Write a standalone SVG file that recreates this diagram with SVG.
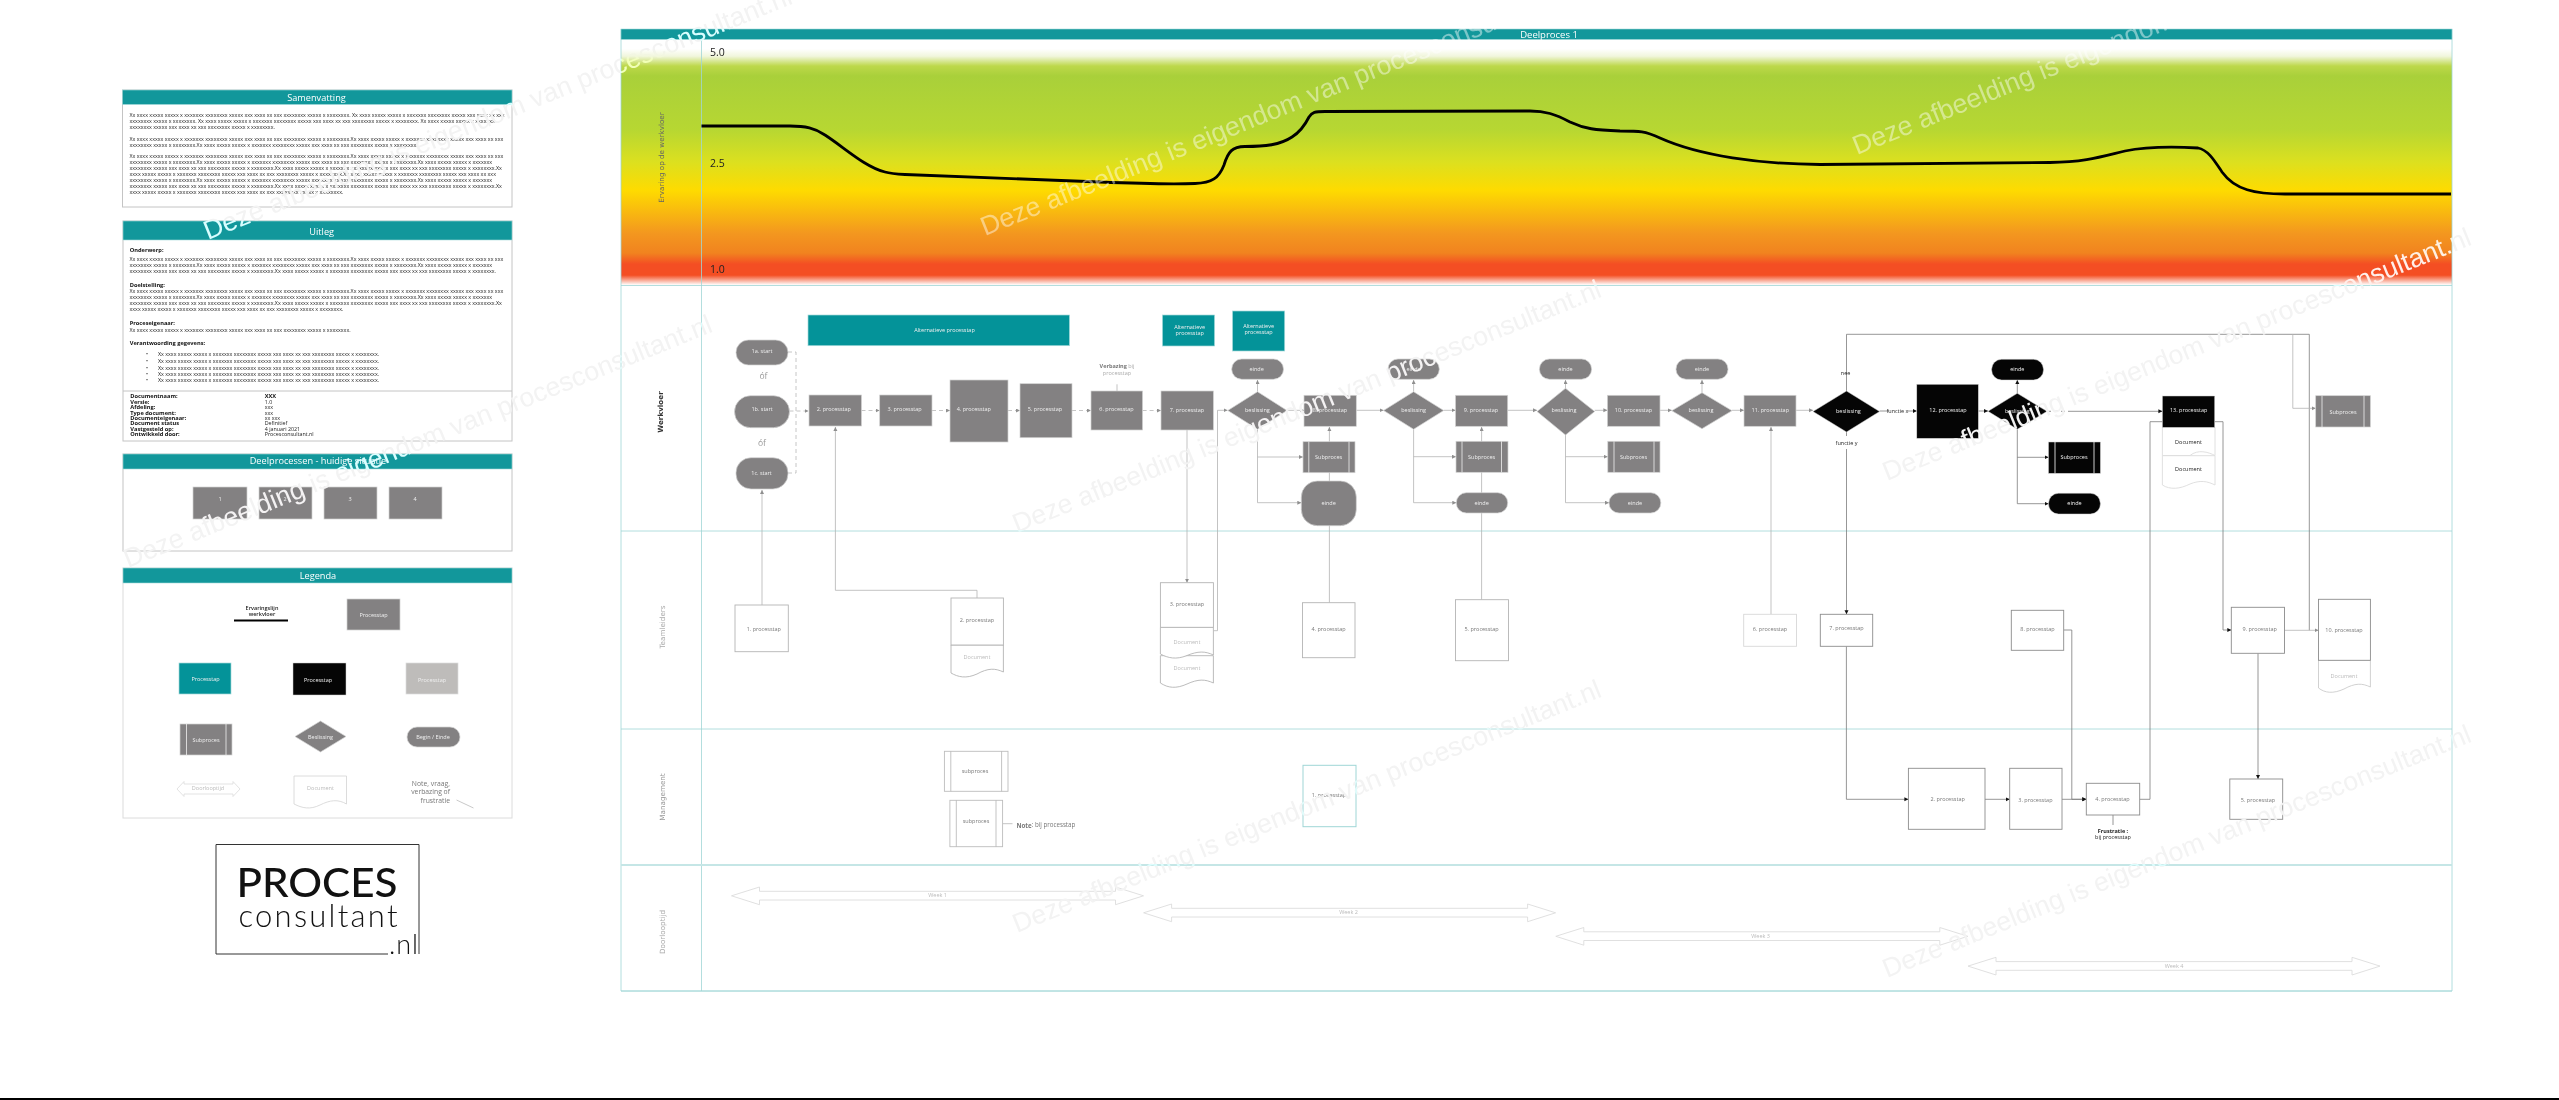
<svg xmlns="http://www.w3.org/2000/svg" width="2559" height="1100" viewBox="0 0 2559 1100">
<style>
text{font-family:"Open Sans","Liberation Sans",sans-serif;dominant-baseline:central}
.g{fill:#838182;stroke:#d2d2d2;stroke-width:.7}
.k{fill:#050505;stroke:#d0d0d0;stroke-width:.5}
.t{fill:#049399;stroke:#a6dadb;stroke-width:.7}
.w{fill:#fff;stroke:#b4b4b4;stroke-width:.9}
.wd{fill:#fff;stroke:#8c8c8c;stroke-width:.9}
.wl{fill:#fff;stroke:#d8d8d8;stroke-width:.9}
.bar{fill:#12979b;stroke:#a6dadb;stroke-width:.6}
.panel{fill:#fff;stroke:#c4c4c4;stroke-width:1}
.n{font-size:5.5px;text-anchor:middle;fill:#f0f0f0}
.nd{font-size:5.5px;text-anchor:middle;fill:#777}
.nl{font-size:5.5px;text-anchor:middle;fill:#bbb}
.nk{font-size:5.5px;text-anchor:middle;fill:#222}
.h{font-size:9.2px;text-anchor:middle;fill:#fff}
.b{font-size:5.35px;fill:#222}
.bb{font-size:5.7px;fill:#111;font-weight:700}
.sep{fill:none;stroke:#f0f0f0;stroke-width:.8}
.sepk{fill:none;stroke:#fff;stroke-width:.8}
.lane{fill:none;stroke:#9fd6d6;stroke-width:.8}
.ll{font-family:"DejaVu Sans",sans-serif;font-size:7.2px;text-anchor:middle;fill:#666}
.c{fill:none;stroke:#b4b4b4;stroke-width:.8;marker-end:url(#ag)}
.c0{fill:none;stroke:#b4b4b4;stroke-width:.8}
.d{fill:none;stroke:#7c7c7c;stroke-width:.8;marker-end:url(#ak)}
.d0{fill:none;stroke:#7c7c7c;stroke-width:.8}
.ds{fill:none;stroke:#b8b8b8;stroke-width:.8;stroke-dasharray:4 3}
.dsa{fill:none;stroke:#b8b8b8;stroke-width:.8;stroke-dasharray:4 3;marker-end:url(#ag)}
.wm{font-family:"Liberation Sans",sans-serif;font-size:26.700px;fill:#f3f3f3;mix-blend-mode:luminosity;dominant-baseline:alphabetic}
.wc{font-family:"Liberation Sans",sans-serif;font-size:26.700px;fill:#fff;fill-opacity:.45;dominant-baseline:alphabetic}
</style>
<defs>
<linearGradient id="heat" gradientUnits="userSpaceOnUse" x1="0" y1="39" x2="0" y2="285">
<stop offset="0" stop-color="#fff"/><stop offset=".04" stop-color="#fff"/><stop offset=".07" stop-color="#f1f6dc"/><stop offset=".11" stop-color="#bdd84a"/><stop offset=".15" stop-color="#a9d03a"/><stop offset=".37" stop-color="#b7d732"/><stop offset=".5" stop-color="#dce01f"/><stop offset=".615" stop-color="#fedb00"/><stop offset=".79" stop-color="#f3971f"/><stop offset=".87" stop-color="#f1831f"/><stop offset=".915" stop-color="#f44e23"/><stop offset=".96" stop-color="#f44e23"/><stop offset="1" stop-color="#fff"/>
</linearGradient>
<marker id="ag" markerWidth="5" markerHeight="5" refX="4" refY="2" orient="auto" markerUnits="userSpaceOnUse"><path d="M0,0L4,2L0,4Z" fill="#8f8f8f"/></marker>
<marker id="ak" markerWidth="5" markerHeight="5" refX="4" refY="2" orient="auto" markerUnits="userSpaceOnUse"><path d="M0,0L4,2L0,4Z" fill="#111"/></marker>
<polygon id="wk" points="0,8.8 28,0 28,4.3 384,4.3 384,0 412,8.8 384,17.7 384,13 28,13 28,17.7" fill="#fff" stroke="#dcdcdc" stroke-width=".9"/>
</defs>
<rect width="2559" height="1100" fill="#fff"/>
<rect y="1098" width="2559" height="2" fill="#000"/>

<g id="samenvatting">
<rect class="panel" x="122.5" y="90" width="389.5" height="117"/>
<rect class="bar" x="122.5" y="90" width="389.5" height="14.500"/>
<text class="h" x="316.500" y="97">Samenvatting</text>
<text class="b" x="129.500" y="114.700">Xx xxxx xxxxx xxxxx x xxxxxxx xxxxxxxx xxxxx xxx xxxx xx xxx xxxxxxxx xxxxx x xxxxxxxx. Xx xxxx xxxxx xxxxx x xxxxxxx xxxxxxxx xxxxx xxx xxxx xx xxx</text>
<text class="b" x="129.500" y="120.700">xxxxxxxx xxxxx x xxxxxxxx. Xx xxxx xxxxx xxxxx x xxxxxxx xxxxxxxx xxxxx xxx xxxx xx xxx xxxxxxxx xxxxx x xxxxxxxx. Xx xxxx xxxxx xxxxx x xxxxxxx</text>
<text class="b" x="129.500" y="126.700">xxxxxxxx xxxxx xxx xxxx xx xxx xxxxxxxx xxxxx x xxxxxxxx.</text>
<text class="b" x="129.500" y="138.700">Xx xxxx xxxxx xxxxx x xxxxxxx xxxxxxxx xxxxx xxx xxxx xx xxx xxxxxxxx xxxxx x xxxxxxxx.Xx xxxx xxxxx xxxxx x xxxxxxx xxxxxxxx xxxxx xxx xxxx xx xxx</text>
<text class="b" x="129.500" y="144.700">xxxxxxxx xxxxx x xxxxxxxx.Xx xxxx xxxxx xxxxx x xxxxxxx xxxxxxxx xxxxx xxx xxxx xx xxx xxxxxxxx xxxxx x xxxxxxxx.</text>
<text class="b" x="129.500" y="156.300">Xx xxxx xxxxx xxxxx x xxxxxxx xxxxxxxx xxxxx xxx xxxx xx xxx xxxxxxxx xxxxx x xxxxxxxx.Xx xxxx xxxxx xxxxx x xxxxxxx xxxxxxxx xxxxx xxx xxxx xx xxx</text>
<text class="b" x="129.500" y="162.300">xxxxxxxx xxxxx x xxxxxxxx.Xx xxxx xxxxx xxxxx x xxxxxxx xxxxxxxx xxxxx xxx xxxx xx xxx xxxxxxxx xxxxx x xxxxxxxx.Xx xxxx xxxxx xxxxx x xxxxxxx</text>
<text class="b" x="129.500" y="168.300">xxxxxxxx xxxxx xxx xxxx xx xxx xxxxxxxx xxxxx x xxxxxxxx.Xx xxxx xxxxx xxxxx x xxxxxxx xxxxxxxx xxxxx xxx xxxx xx xxx xxxxxxxx xxxxx x xxxxxxxx.Xx</text>
<text class="b" x="129.500" y="174">xxxx xxxxx xxxxx x xxxxxxx xxxxxxxx xxxxx xxx xxxx xx xxx xxxxxxxx xxxxx x xxxxxxxx.Xx xxxx xxxxx xxxxx x xxxxxxx xxxxxxxx xxxxx xxx xxxx xx xxx</text>
<text class="b" x="129.500" y="180">xxxxxxxx xxxxx x xxxxxxxx.Xx xxxx xxxxx xxxxx x xxxxxxx xxxxxxxx xxxxx xxx xxxx xx xxx xxxxxxxx xxxxx x xxxxxxxx.Xx xxxx xxxxx xxxxx x xxxxxxx</text>
<text class="b" x="129.500" y="186">xxxxxxxx xxxxx xxx xxxx xx xxx xxxxxxxx xxxxx x xxxxxxxx.Xx xxxx xxxxx xxxxx x xxxxxxx xxxxxxxx xxxxx xxx xxxx xx xxx xxxxxxxx xxxxx x xxxxxxxx.Xx</text>
<text class="b" x="129.500" y="192">xxxx xxxxx xxxxx x xxxxxxx xxxxxxxx xxxxx xxx xxxx xx xxx xxxxxxxx xxxxx x xxxxxxxx.</text>
</g>

<g id="uitleg">
<rect class="panel" x="123" y="221" width="389" height="220"/>
<line x1="123" y1="391" x2="512" y2="391" stroke="#c4c4c4"/>
<rect class="bar" x="123" y="221" width="389" height="19"/>
<text class="h" x="321.700" y="231.500">Uitleg</text>
<text class="bb" x="129.700" y="250">Onderwerp:</text>
<text class="b" x="129.500" y="259">Xx xxxx xxxxx xxxxx x xxxxxxx xxxxxxxx xxxxx xxx xxxx xx xxx xxxxxxxx xxxxx x xxxxxxxx.Xx xxxx xxxxx xxxxx x xxxxxxx xxxxxxxx xxxxx xxx xxxx xx xxx</text>
<text class="b" x="129.500" y="265">xxxxxxxx xxxxx x xxxxxxxx.Xx xxxx xxxxx xxxxx x xxxxxxx xxxxxxxx xxxxx xxx xxxx xx xxx xxxxxxxx xxxxx x xxxxxxxx.Xx xxxx xxxxx xxxxx x xxxxxxx</text>
<text class="b" x="129.500" y="271">xxxxxxxx xxxxx xxx xxxx xx xxx xxxxxxxx xxxxx x xxxxxxxx.Xx xxxx xxxxx xxxxx x xxxxxxx xxxxxxxx xxxxx xxx xxxx xx xxx xxxxxxxx xxxxx x xxxxxxxx.</text>
<text class="bb" x="129.700" y="285">Doelstelling:</text>
<text class="b" x="129.500" y="291.300">Xx xxxx xxxxx xxxxx x xxxxxxx xxxxxxxx xxxxx xxx xxxx xx xxx xxxxxxxx xxxxx x xxxxxxxx.Xx xxxx xxxxx xxxxx x xxxxxxx xxxxxxxx xxxxx xxx xxxx xx xxx</text>
<text class="b" x="129.500" y="297.300">xxxxxxxx xxxxx x xxxxxxxx.Xx xxxx xxxxx xxxxx x xxxxxxx xxxxxxxx xxxxx xxx xxxx xx xxx xxxxxxxx xxxxx x xxxxxxxx.Xx xxxx xxxxx xxxxx x xxxxxxx</text>
<text class="b" x="129.500" y="303">xxxxxxxx xxxxx xxx xxxx xx xxx xxxxxxxx xxxxx x xxxxxxxx.Xx xxxx xxxxx xxxxx x xxxxxxx xxxxxxxx xxxxx xxx xxxx xx xxx xxxxxxxx xxxxx x xxxxxxxx.Xx</text>
<text class="b" x="129.500" y="309">xxxx xxxxx xxxxx x xxxxxxx xxxxxxxx xxxxx xxx xxxx xx xxx xxxxxxxx xxxxx x xxxxxxxx.</text>
<text class="bb" x="129.700" y="323.300">Proceseigenaar:</text>
<text class="b" x="129.500" y="330">Xx xxxx xxxxx xxxxx x xxxxxxx xxxxxxxx xxxxx xxx xxxx xx xxx xxxxxxxx xxxxx x xxxxxxxx.</text>
<text class="bb" x="129.700" y="343.300">Verantwoording gegevens:</text>
<text class="b" x="146" y="354">•</text><text class="b" x="158" y="354">Xx xxxx xxxxx xxxxx x xxxxxxx xxxxxxxx xxxxx xxx xxxx xx xxx xxxxxxxx xxxxx x xxxxxxxx.</text>
<text class="b" x="146" y="360.700">•</text><text class="b" x="158" y="360.700">Xx xxxx xxxxx xxxxx x xxxxxxx xxxxxxxx xxxxx xxx xxxx xx xxx xxxxxxxx xxxxx x xxxxxxxx.</text>
<text class="b" x="146" y="367.700">•</text><text class="b" x="158" y="367.700">Xx xxxx xxxxx xxxxx x xxxxxxx xxxxxxxx xxxxx xxx xxxx xx xxx xxxxxxxx xxxxx x xxxxxxxx.</text>
<text class="b" x="146" y="374">•</text><text class="b" x="158" y="374">Xx xxxx xxxxx xxxxx x xxxxxxx xxxxxxxx xxxxx xxx xxxx xx xxx xxxxxxxx xxxxx x xxxxxxxx.</text>
<text class="b" x="146" y="380">•</text><text class="b" x="158" y="380">Xx xxxx xxxxx xxxxx x xxxxxxx xxxxxxxx xxxxx xxx xxxx xx xxx xxxxxxxx xxxxx x xxxxxxxx.</text>
<text class="bb" x="130.300" y="396.300">Documentnaam:</text><text class="bb" x="264.700" y="396.300">XXX</text>
<text class="bb" x="130.300" y="401.700">Versie:</text><text class="b" x="264.700" y="401.700">1.0</text>
<text class="bb" x="130.300" y="407.300">Afdeling:</text><text class="b" x="264.700" y="407.300">xxx</text>
<text class="bb" x="130.300" y="412.700">Type document:</text><text class="b" x="264.700" y="412.700">xxx</text>
<text class="bb" x="130.300" y="418">Documenteigenaar:</text><text class="b" x="264.700" y="418">xx xxx</text>
<text class="bb" x="130.300" y="423.300">Document status</text><text class="b" x="264.700" y="423.300">Definitief</text>
<text class="bb" x="130.300" y="429">Vastgesteld op:</text><text class="b" x="264.700" y="429">4 januari 2021</text>
<text class="bb" x="130.300" y="434.300">Ontwikkeld door:</text><text class="b" x="264.700" y="434.300">Procesconsultant.nl</text>
</g>

<g id="deelprocessen">
<rect class="panel" x="123" y="454" width="389" height="97"/>
<rect class="bar" x="123" y="454" width="389" height="15"/>
<text class="h" x="318" y="460.700">Deelprocessen - huidige situatie</text>
<rect class="g" x="193" y="487" width="54" height="32"/><text class="n" x="220" y="499.300">1</text>
<rect class="g" x="259" y="487" width="53" height="32"/><text class="n" x="285" y="499.300">2</text>
<rect class="g" x="324" y="487" width="53" height="32"/><text class="n" x="350" y="499.300">3</text>
<rect class="g" x="389" y="487" width="53" height="32"/><text class="n" x="415" y="499.300">4</text>
</g>

<g id="legenda">
<rect class="panel" x="123" y="568" width="389" height="250" style="stroke:#dcdcdc"/>
<rect class="bar" x="123" y="568" width="389" height="15"/>
<text class="h" x="318" y="575">Legenda</text>
<text class="nk" x="262" y="608" style="font-weight:600">Ervaringslijn</text>
<text class="nk" x="262" y="614" style="font-weight:600">werkvloer</text>
<line x1="234" y1="620.500" x2="288" y2="620.500" stroke="#000" stroke-width="2.200"/>
<rect class="g" x="347" y="599" width="53" height="31"/><text class="n" x="373.500" y="614.500">Processtap</text>
<rect class="t" x="179" y="663" width="52" height="31"/><text class="n" x="205.500" y="679">Processtap</text>
<rect class="k" x="293" y="663" width="53" height="32"/><text class="n" x="318" y="679.500">Processtap</text>
<rect x="406" y="663" width="52" height="31" fill="#bebcba" stroke="#dcdcdc" stroke-width=".7"/><text class="n" x="432" y="679.500">Processtap</text>
<rect class="g" x="180" y="724" width="52" height="31"/><path class="sep" d="M186.500,724V755M226,724V755"/><text class="n" x="206" y="739.500">Subproces</text>
<polygon class="g" points="295,736.500 320.500,721 346,736.500 320.500,752"/><text class="n" x="320.500" y="736.500">Beslissing</text>
<rect class="g" x="407" y="727" width="53" height="20" rx="10"/><text class="n" x="433" y="736.500">Begin / Einde</text>
<polygon points="177,789 184,781.500 184,784 233,784 233,781.500 240,789 233,796.500 233,794 184,794 184,796.500" fill="#fff" stroke="#dcdcdc" stroke-width=".8"/><text class="nl" x="208" y="788">Doorlooptijd</text>
<path class="wl" d="M294,776H346.500V804C338,799 330,800 320,805C310,810 302,808 294,804Z"/><text class="nl" x="320.500" y="788">Document</text>
<text x="450" y="783" text-anchor="end" font-size="6.800" fill="#777">Note, vraag,</text>
<text x="450" y="791.500" text-anchor="end" font-size="6.800" fill="#777">verbazing of</text>
<text x="450" y="800.500" text-anchor="end" font-size="6.800" fill="#777">frustratie</text>
<line x1="456.500" y1="800" x2="473.500" y2="808" stroke="#bbb" stroke-width=".8"/>
</g>

<g id="logo">
<path d="M388,954H216V844.500H419V954" fill="none" stroke="#333" stroke-width="1"/>
<text x="236.500" y="897" font-size="40" font-weight="500" fill="#111" textLength="161" lengthAdjust="spacingAndGlyphs" style="font-family:Lato,sans-serif;dominant-baseline:alphabetic">PROCES</text>
<text x="238.500" y="927" font-size="31" font-weight="300" fill="#111" textLength="159" lengthAdjust="spacing" style="font-family:Lato,sans-serif;dominant-baseline:alphabetic">consultant</text>
<text x="389" y="954" font-size="27" font-weight="300" fill="#111" textLength="29" lengthAdjust="spacing" style="font-family:Lato,sans-serif;dominant-baseline:alphabetic">.nl</text>
</g>

<g id="swimlanes">
<rect x="621" y="39" width="1831" height="246" fill="url(#heat)"/>
<path class="lane" d="M621,29V991H2452V29M701.500,39V991M621,285.500H2452M621,531H2452M621,729H2452M621,991H2452"/>
<line x1="621" y1="865" x2="2452" y2="865" stroke="#c5e6e6" stroke-width="2"/>
<rect class="bar" x="621" y="29" width="1831" height="10.500"/>
<text class="h" x="1549" y="34" style="font-size:9.500px">Deelproces 1</text>
<text x="710" y="52" font-size="10.500" fill="#222">5.0</text>
<text x="710" y="163" font-size="10.500" fill="#222">2.5</text>
<text x="710" y="269" font-size="10.500" fill="#222">1.0</text>
<text class="ll" transform="translate(661,157.500) rotate(-90)">Ervaring op de werkvloer</text>
<text class="ll" transform="translate(660.500,412) rotate(-90)" style="font-weight:700;fill:#333">Werkvloer</text>
<text class="ll" transform="translate(662.800,627) rotate(-90)" style="fill:#aaa">Teamleiders</text>
<text class="ll" transform="translate(662.800,797) rotate(-90)" style="fill:#999">Management</text>
<text class="ll" transform="translate(662.500,932) rotate(-90)" style="fill:#aaa">Doorlooptijd</text>
<path d="M701.500,126H790C805,126 815,128 825,135C845,148 865,167 885,172C890,173.500 895,174 905,174.500L1100,182C1150,184 1180,184 1195,183.500C1212,183 1219,178 1224,165C1228,152 1232,146.500 1245,146.500C1265,146.500 1280,145 1292,137C1300,132 1305,125 1309,117C1312,112 1315,111.500 1325,111.500L1530,111C1545,111 1555,114 1570,122C1585,129 1595,130 1620,131C1640,131 1645,131 1660,138C1700,156 1760,164 1820,164.500L2050,162.500C2085,162 2100,157 2125,151C2150,146 2180,147 2198,148C2208,150 2214,160 2222,172C2235,190 2255,194 2285,194H2451" fill="none" stroke="#000" stroke-width="2.800"/>
</g>

<g id="connectors">
<path class="ds" d="M788,352H796V473H788"/>
<path class="dsa" d="M789.500,411H808.500"/>
<path class="dsa" d="M861.500,410.500H879.500"/>
<path class="dsa" d="M932,410.500H950"/>
<path class="dsa" d="M1008,410.500H1020"/>
<path class="dsa" d="M1072,410.500H1091"/>
<path class="dsa" d="M1142.600,410.500H1161"/>
<path class="c" d="M762,605V490"/>
<path class="c" d="M977,598V590.300H835.400V427"/>
<path class="c" d="M1187,430V582.700"/>
<path class="c" d="M1213.400,630.700H1217.500V410.300H1227.500"/>
<path class="c" d="M1287,410.300H1304"/>
<path class="c" d="M1257.500,391.700V380"/>
<path class="c" d="M1257.500,429.300V502.700H1301.300"/>
<path class="c" d="M1257.500,457H1303"/>
<path class="c" d="M1329.400,602.700V427"/>
<path class="c" d="M1356.300,410.300H1383.600"/>
<path class="c" d="M1413.600,391.700V380"/>
<path class="c" d="M1443.700,410.300H1455.500"/>
<path class="c" d="M1413.600,429.300V502.700H1456.300"/>
<path class="c" d="M1413.600,456.700H1456"/>
<path class="c" d="M1481.600,599.700V427"/>
<path class="c" d="M1507.700,410.300H1537"/>
<path class="c" d="M1565.500,388.300V380"/>
<path class="c" d="M1594.700,410.300H1607.400"/>
<path class="c" d="M1565.500,435V502.700H1609"/>
<path class="c" d="M1565.500,456.700H1607.800"/>
<path class="c" d="M1660,410.300H1671.800"/>
<path class="c" d="M1702,392.700V380"/>
<path class="c" d="M1732,410.300H1744"/>
<path class="c" d="M1796,410.300H1813"/>
<path class="c" d="M1771,614.300V427"/>
<path class="c0" d="M1117,384.300V391"/>
<path class="c0" d="M1002.600,823.700H1012.500"/>
<path class="d0" d="M1879.600,411H1889"/>
<path class="d" d="M1908,411H1916.800"/>
<path class="d0" d="M1846.500,391V334.300H2309.300V630.300"/>
<path class="c" d="M2292.800,334.300V408.300H2315.700"/>
<path class="d0" d="M1846.500,432V436"/>
<path class="d" d="M1846.500,449V614.300"/>
<path class="d" d="M1978.300,411H1988"/>
<path class="d" d="M2017.300,393.300V380"/>
<path class="d" d="M2017.300,429.300V503.700H2048.500"/>
<path class="d" d="M2017.300,457.300H2048.500"/>
<path class="ds" d="M2047,411.300H2070" style="stroke:#777"/>
<path class="d" d="M2070,411.300H2162.400"/>
<path class="d0" d="M2139.700,799.300H2150V421.700H2162.400"/>
<path class="d" d="M2214.700,421.700H2223V630H2231.300"/>
<path class="c" d="M2284.500,630.300H2318.500"/>
<path class="d" d="M2063.700,630H2071.800V799.300H2086.300"/>
<path class="d" d="M1846.400,646.300V799.300H1908.400"/>
<path class="d" d="M1985,799.300H2009.700"/>
<path class="d" d="M2062,799.300H2086.300"/>
<path class="d" d="M2258,653.300V779"/>
<path class="d0" d="M2113,815V825"/>
</g>

<g id="n-1a"><rect class="g" x="736" y="340" width="52" height="25" rx="12.500"/><text class="n" x="762" y="351">1a. start</text></g>
<text x="763.400" y="375" text-anchor="middle" font-size="8.500" fill="#999">óf</text>
<g id="n-1b"><rect class="g" x="734.500" y="395.700" width="55" height="32" rx="16"/><text class="n" x="762" y="409.300">1b. start</text></g>
<text x="762" y="442" text-anchor="middle" font-size="8.500" fill="#999">óf</text>
<g id="n-1c"><rect class="g" x="736" y="457.700" width="52" height="31.300" rx="15"/><text class="n" x="761.500" y="472.700">1c. start</text></g>
<g id="n-alt1"><rect class="t" x="808" y="315" width="261.500" height="30.700"/><text class="n" x="944.500" y="330">Alternatieve processtap</text></g>
<g id="n-alt2"><rect class="t" x="1162.400" y="315" width="52.200" height="31"/><text class="n" x="1189.700" y="327">Alternatieve</text><text class="n" x="1189.700" y="333">processtap</text></g>
<g id="n-alt3"><rect class="t" x="1232.500" y="311" width="52.200" height="40"/><text class="n" x="1258.600" y="326">Alternatieve</text><text class="n" x="1258.600" y="332">processtap</text></g>
<g id="n-p2"><rect class="g" x="809" y="395" width="52.500" height="31"/><text class="n" x="833.800" y="408.700">2. processtap</text></g>
<g id="n-p3"><rect class="g" x="879.700" y="395" width="52.300" height="31"/><text class="n" x="904.600" y="408.700">3. processtap</text></g>
<g id="n-p4"><rect class="g" x="950" y="380" width="58" height="62"/><text class="n" x="973.800" y="408.700">4. processtap</text></g>
<g id="n-p5"><rect class="g" x="1020" y="383.700" width="52" height="54"/><text class="n" x="1045" y="408.700">5. processtap</text></g>
<g id="n-p6"><rect class="g" x="1091" y="391" width="51.600" height="39"/><text class="n" x="1116.500" y="408.700">6. processtap</text></g>
<g id="n-verb"><text class="nd" x="1117" y="366"><tspan font-weight="700" fill="#777">Verbazing</tspan><tspan fill="#aaa"> bij</tspan></text><text class="nl" x="1117" y="372.700" style="fill:#aaa">processtap</text></g>
<g id="n-p7"><rect class="g" x="1161" y="391" width="52.400" height="39"/><text class="n" x="1187" y="410">7. processtap</text></g>
<g id="n-b1"><polygon class="g" points="1227.800,410.500 1257.500,391.700 1287,410.500 1257.500,429.300"/><text class="n" x="1257.400" y="410">beslissing</text></g>
<g id="n-e1"><rect class="g" x="1231.700" y="359" width="51.800" height="20.300" rx="10"/><text class="n" x="1256.600" y="368.700">einde</text></g>
<g id="n-p8"><rect class="g" x="1304" y="395.300" width="52.300" height="31"/><text class="n" x="1330" y="410">8. processtap</text></g>
<g id="n-s1"><rect class="g" x="1303" y="441.700" width="52" height="31"/><path class="sep" d="M1308.800,441.700V472.700M1349,441.700V472.700"/><text class="n" x="1328.600" y="456.700">Subproces</text></g>
<g id="n-e1b"><rect class="g" x="1301.300" y="481" width="55" height="44.700" rx="16"/><text class="n" x="1328.600" y="502.700">einde</text></g>
<g id="n-b2"><polygon class="g" points="1383.600,410.500 1413.600,391.700 1443.700,410.500 1413.600,429.300"/><text class="n" x="1413.600" y="410">beslissing</text></g>
<g id="n-e2"><rect class="g" x="1388" y="359" width="51.300" height="20.300" rx="10"/><text class="n" x="1413.600" y="368.700">einde</text></g>
<g id="n-p9"><rect class="g" x="1455.500" y="395.300" width="52.200" height="31"/><text class="n" x="1481" y="410">9. processtap</text></g>
<g id="n-s2"><rect class="g" x="1456" y="441.300" width="52" height="31"/><path class="sep" d="M1462,441.300V472.300M1501.500,441.300V472.300"/><text class="n" x="1481.600" y="456.700">Subproces</text></g>
<g id="n-e2b"><rect class="g" x="1456.300" y="492.700" width="51.400" height="20.300" rx="10"/><text class="n" x="1481.600" y="502.700">einde</text></g>
<g id="n-b3"><polygon class="g" points="1537,411.500 1565.500,388.300 1594.700,411.500 1565.500,435"/><text class="n" x="1564" y="410">beslissing</text></g>
<g id="n-e3"><rect class="g" x="1539.400" y="359" width="52.200" height="20.300" rx="10"/><text class="n" x="1565.500" y="368.700">einde</text></g>
<g id="n-p10"><rect class="g" x="1607.400" y="395.300" width="52.600" height="31"/><text class="n" x="1633.500" y="410">10. processtap</text></g>
<g id="n-s3"><rect class="g" x="1607.800" y="441.300" width="52.200" height="31"/><path class="sep" d="M1614,441.300V472.300M1654,441.300V472.300"/><text class="n" x="1633.500" y="456.700">Subproces</text></g>
<g id="n-e3b"><rect class="g" x="1609" y="492.700" width="51.800" height="20.300" rx="10"/><text class="n" x="1635" y="502.700">einde</text></g>
<g id="n-b4"><polygon class="g" points="1671.800,410.700 1702,392.700 1732,410.700 1702,428.700"/><text class="n" x="1701" y="410">beslissing</text></g>
<g id="n-e4"><rect class="g" x="1676" y="359" width="52" height="20.300" rx="10"/><text class="n" x="1702" y="368.700">einde</text></g>
<g id="n-p11"><rect class="g" x="1744" y="395.300" width="52" height="31"/><text class="n" x="1770.300" y="410.300">11. processtap</text></g>
<g id="n-b5"><polygon class="k" points="1813,411.500 1846.500,391 1879.600,411.500 1846.500,432"/><text class="n" x="1848.400" y="411.300">beslissing</text></g>
<text class="nk" x="1845.600" y="372.700">nee</text>
<text class="nk" x="1897.500" y="411">functie x</text>
<text class="nk" x="1846.500" y="442.700">functie y</text>
<g id="n-p12"><rect class="k" x="1916.800" y="384.300" width="61.500" height="54"/><text class="n" x="1948" y="410">12. processtap</text></g>
<g id="n-b6"><polygon class="k" points="1988,411.300 2017.300,393.300 2047,411.300 2017.300,429.300"/><text class="n" x="2017.300" y="411">beslissing</text></g>
<g id="n-e6"><rect class="k" x="1991.600" y="359.300" width="51.900" height="20.700" rx="10"/><text class="n" x="2017.300" y="369.300">einde</text></g>
<g id="n-s6"><rect class="k" x="2048.500" y="442" width="51.900" height="31.300"/><path class="sepk" d="M2055,442V473.300M2094,442V473.300"/><text class="n" x="2074" y="457">Subproces</text></g>
<g id="n-e6b"><rect class="k" x="2048.500" y="493.300" width="51.900" height="20.700" rx="10"/><text class="n" x="2074.500" y="503.300">einde</text></g>
<g id="n-p13"><path class="w" style="stroke:#ddd" d="M2162.400,455.700H2215V485C2207,481 2200,480 2190,484C2180,489 2170,490 2162.400,485Z"/><text class="nk" x="2188.500" y="469">Document</text><path class="w" style="stroke:#ddd" d="M2162.400,427.300H2215V455.500C2208,452 2198,449 2190,455.500H2162.400Z"/><text class="nk" x="2188.500" y="441.700">Document</text><rect class="k" x="2162.400" y="396" width="52.300" height="31.300"/><text class="n" x="2188.600" y="410.300">13. processtap</text></g>
<g id="n-sub"><rect class="g" x="2315.700" y="395.700" width="54.700" height="31.300"/><path class="sep" d="M2322,395.700V427M2364,395.700V427"/><text class="n" x="2343" y="411.700">Subproces</text></g>
<g id="n-t1"><rect class="w" x="735" y="605" width="53.300" height="46.700"/><text class="nd" x="763.800" y="628.700">1. processtap</text></g>
<g id="n-t2"><path class="w" d="M951,645H1003.400V672C995,668 988,668 977,674C966,679 958,677 951,673Z"/><rect class="w" x="951" y="598" width="52.400" height="47"/><text class="nd" x="977" y="619.700">2. processtap</text><text class="nl" x="977" y="657">Document</text></g>
<g id="n-t3"><path class="w" d="M1160.400,655.700H1213.400V683C1205,679 1198,679 1187,684C1176,689 1168,688 1160.400,683Z"/><path class="w" d="M1160.400,627.300H1213.400V655C1205,651 1198,651 1187,655.500C1176,660 1168,658 1160.400,654Z"/><rect class="w" x="1160.400" y="582.700" width="53" height="44.600"/><text class="nd" x="1187" y="603.500">3. processtap</text><text class="nl" x="1187" y="641.700">Document</text><text class="nl" x="1187" y="668">Document</text></g>
<g id="n-t4"><rect class="w" x="1302.500" y="602.700" width="52.500" height="55"/><text class="nd" x="1328.600" y="629">4. processtap</text></g>
<g id="n-t5"><rect class="w" x="1455.500" y="599.700" width="53" height="61"/><text class="nd" x="1481.600" y="629">5. processtap</text></g>
<g id="n-t6"><rect class="wl" x="1743.700" y="614.300" width="52.800" height="32"/><text class="nd" x="1770" y="629.300">6. processtap</text></g>
<g id="n-t7"><rect class="wd" x="1820.300" y="614.300" width="52.400" height="32"/><text class="nd" x="1846.500" y="628.300">7. processtap</text></g>
<g id="n-t8"><rect class="wd" x="2011.300" y="610.300" width="52.400" height="40"/><text class="nd" x="2037.500" y="629.300">8. processtap</text></g>
<g id="n-t9"><rect class="wd" x="2231.300" y="607.300" width="53.200" height="46"/><text class="nd" x="2259.700" y="629.300">9. processtap</text></g>
<g id="n-t10"><path class="w" style="stroke:#ccc" d="M2318.500,660.300H2370.400V687C2362,683 2355,683 2344,689C2333,694 2325,693 2318.500,688Z"/><rect class="wd" x="2318.500" y="599.300" width="51.900" height="61"/><text class="nd" x="2344" y="630.300">10. processtap</text><text class="nl" x="2344" y="676">Document</text></g>
<g id="n-m1"><rect class="wl" style="stroke:#bdbdbd" x="944.400" y="751.300" width="63.600" height="40"/><path class="c0" d="M950.800,751.300V791.300M1001.600,751.300V791.300"/><text class="nd" x="975" y="771.300">subproces</text></g>
<g id="n-m2"><rect class="wl" style="stroke:#bdbdbd" x="949.900" y="800.300" width="52.700" height="46.400"/><path class="c0" d="M956.300,800.300V846.700M996,800.300V846.700"/><text class="nd" x="976" y="821.300">subproces</text></g>
<text class="nd" x="1016.500" y="824.700" style="text-anchor:start;font-size:6.200px"><tspan font-weight="700">Note</tspan>: bij processtap</text>
<g id="n-m3"><rect x="1303" y="765.300" width="53" height="61.400" fill="#fff" stroke="#9fd6d6" stroke-width="1"/><text class="nd" x="1329" y="795.300">1. processtap</text></g>
<g id="n-m4"><rect class="wd" x="1908.400" y="768.300" width="76.600" height="61"/><text class="nd" x="1947.700" y="798.700">2. processtap</text></g>
<g id="n-m5"><rect class="wd" x="2009.700" y="768.300" width="52.300" height="61"/><text class="nd" x="2035.400" y="800">3. processtap</text></g>
<g id="n-m6"><rect class="wd" x="2086.300" y="783.300" width="53.400" height="31.700"/><text class="nd" x="2112.500" y="798.700">4. processtap</text></g>
<text class="nk" x="2113" y="830.700" style="font-weight:700">Frustratie :</text>
<text class="nk" x="2113" y="837.300">bij processtap</text>
<g id="n-m7"><rect class="wd" x="2229.800" y="779" width="52.900" height="40.300"/><text class="nd" x="2258" y="800">5. processtap</text></g>
<g id="n-w1"><use href="#wk" x="731.500" y="887"/><text class="nl" x="937.600" y="895">Week 1</text></g>
<g id="n-w2"><use href="#wk" x="1143.600" y="904"/><text class="nl" x="1348.500" y="912">Week 2</text></g>
<g id="n-w3"><use href="#wk" x="1555.800" y="927.500"/><text class="nl" x="1760.600" y="936">Week 3</text></g>
<g id="n-w4"><use href="#wk" x="1968" y="957.300"/><text class="nl" x="2174" y="965.700">Week 4</text></g>

<g id="watermarks">
<text class="wm" transform="translate(128,568) rotate(-22)">Deze afbeelding is eigendom van procesconsultant.nl</text>
<text class="wm" transform="translate(208,240) rotate(-22)">Deze afbeelding is eigendom van procesconsultant.nl</text>
<text class="wc" transform="translate(985,236) rotate(-22)">Deze afbeelding is eigendom van procesconsultant.nl</text>
<text class="wm" transform="translate(1017,533) rotate(-22)">Deze afbeelding is eigendom van procesconsultant.nl</text>
<text class="wc" transform="translate(1857,155) rotate(-22)">Deze afbeelding is eigendom van procesconsultant.nl</text>
<text class="wm" transform="translate(1887,481) rotate(-22)">Deze afbeelding is eigendom van procesconsultant.nl</text>
<text class="wm" transform="translate(1017,933) rotate(-22)">Deze afbeelding is eigendom van procesconsultant.nl</text>
<text class="wm" transform="translate(1887,978) rotate(-22)">Deze afbeelding is eigendom van procesconsultant.nl</text>
</g>
</svg>
